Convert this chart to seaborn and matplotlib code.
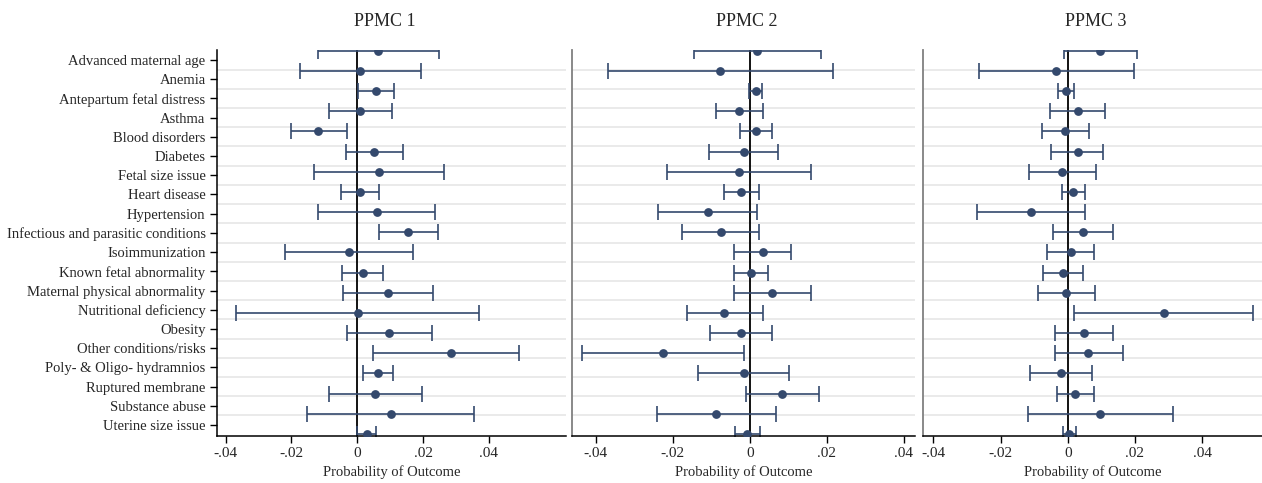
import numpy as np
import pandas as pd
import matplotlib
matplotlib.use("Agg")
import matplotlib.pyplot as plt
import seaborn as sns

conditions = [
    "Advanced maternal age", "Anemia", "Antepartum fetal distress", "Asthma",
    "Blood disorders", "Diabetes", "Fetal size issue", "Heart disease",
    "Hypertension", "Infectious and parasitic conditions", "Isoimmunization",
    "Known fetal abnormality", "Maternal physical abnormality",
    "Nutritional deficiency", "Obesity", "Other conditions/risks",
    "Poly- & Oligo- hydramnios", "Ruptured membrane", "Substance abuse",
    "Uterine size issue",
]
panels = ["PPMC 1", "PPMC 2", "PPMC 3"]

# point estimates and 95% CI bounds
est_1 = [0.0064, 0.0008, 0.0056, 0.0008, -0.0119, 0.0051, 0.0066, 0.0008, 0.0059, 0.0155,
         -0.0024, 0.0016, 0.0092, 0.0001, 0.0096, 0.0284, 0.0062, 0.0054, 0.0101, 0.0029]
lo_1 = [-0.0119, -0.0174, 0.0001, -0.0085, -0.0202, -0.0035, -0.0132, -0.0050, -0.0119, 0.0067,
        -0.0218, -0.0046, -0.0043, -0.0369, -0.0030, 0.0047, 0.0016, -0.0085, -0.0152, 0.0000]
hi_1 = [0.0249, 0.0194, 0.0112, 0.0105, -0.0030, 0.0138, 0.0264, 0.0067, 0.0236, 0.0244,
        0.0170, 0.0077, 0.0229, 0.0371, 0.0226, 0.0492, 0.0109, 0.0196, 0.0355, 0.0057]

est_2 = [0.0019, -0.0077, 0.0015, -0.0028, 0.0016, -0.0016, -0.0029, -0.0022, -0.0110, -0.0076,
         0.0034, 0.0003, 0.0058, -0.0066, -0.0023, -0.0227, -0.0016, 0.0083, -0.0087, -0.0007]
lo_2 = [-0.0146, -0.0368, -0.0003, -0.0089, -0.0025, -0.0105, -0.0216, -0.0067, -0.0239, -0.0176,
        -0.0040, -0.0041, -0.0042, -0.0164, -0.0104, -0.0437, -0.0134, -0.0011, -0.0241, -0.0039]
hi_2 = [0.0184, 0.0216, 0.0031, 0.0034, 0.0057, 0.0073, 0.0160, 0.0025, 0.0019, 0.0024,
        0.0108, 0.0048, 0.0160, 0.0034, 0.0057, -0.0016, 0.0102, 0.0179, 0.0068, 0.0026]

est_3 = [0.0097, -0.0034, -0.0005, 0.0029, -0.0007, 0.0029, -0.0016, 0.0017, -0.0108, 0.0046,
         0.0009, -0.0014, -0.0004, 0.0285, 0.0048, 0.0061, -0.0019, 0.0022, 0.0096, 0.0005]
lo_3 = [-0.0010, -0.0264, -0.0028, -0.0054, -0.0076, -0.0050, -0.0116, -0.0018, -0.0269, -0.0043,
        -0.0062, -0.0073, -0.0089, 0.0020, -0.0039, -0.0039, -0.0111, -0.0033, -0.0119, -0.0014]
hi_3 = [0.0206, 0.0197, 0.0018, 0.0111, 0.0064, 0.0106, 0.0084, 0.0052, 0.0051, 0.0135,
        0.0079, 0.0044, 0.0081, 0.0551, 0.0135, 0.0163, 0.0073, 0.0078, 0.0313, 0.0024]

xticks = [-0.04, -0.02, 0, 0.02, 0.04]
xticklabels = ["-.04", "-.02", "0", ".02", ".04"]

rows = []
for p, (e, l, h) in zip(panels, [(est_1, lo_1, hi_1), (est_2, lo_2, hi_2), (est_3, lo_3, hi_3)]):
    for i, c in enumerate(conditions):
        rows.append({"panel": p, "condition": c, "pos": i, "est": e[i], "lo": l[i], "hi": h[i]})
df = pd.DataFrame(rows)

sns.set_style("white")
plt.rcParams["font.family"] = ["Liberation Serif", "DejaVu Serif"]

navy = "#34496d"
fig = plt.figure(figsize=(12.62, 4.83), dpi=100)

# axes boxes in figure fractions (left, width) and x-limits per panel
boxes = [(0.1717, 0.2768), (0.4530, 0.2720), (0.7316, 0.2684)]
xlims = [(-0.0427, 0.0634), (-0.0463, 0.0429), (-0.0430, 0.0578)]
title_x = [0.48, 0.51, 0.51]

n = len(conditions)
label_pos = 0.461 + 0.9524 * np.arange(n)
grid_pos = label_pos[:-1] + 0.476

for k, p in enumerate(panels):
    ax = fig.add_axes([boxes[k][0], 0.0973, boxes[k][1], 0.7992])
    d = df[df["panel"] == p]
    for g in grid_pos:
        ax.axhline(g, color="#e6e6e6", lw=1.2, zorder=0)
    ax.axvline(0, color="black", lw=1.3, zorder=1)
    ax.errorbar(d["est"], d["pos"], xerr=[d["est"] - d["lo"], d["hi"] - d["est"]],
                fmt="none", ecolor=navy, elinewidth=1.2, capsize=5.5, capthick=1.2, zorder=2)
    sns.scatterplot(data=d, x="est", y="pos", ax=ax, color=navy, s=40,
                    edgecolor=navy, linewidth=0, zorder=3)
    ax.set_xlim(*xlims[k])
    ax.set_ylim(19.10, -0.035)
    ax.set_xticks(xticks)
    ax.set_xticklabels(xticklabels, fontsize=11)
    ax.set_xlabel("Probability of Outcome", fontsize=10.5, labelpad=4)
    ax.set_ylabel("")
    ax.set_title(p, fontsize=13, pad=17, x=title_x[k])
    ax.tick_params(axis="x", direction="out", length=5, width=1, color="black", pad=3, bottom=True)
    for s in ["top", "right"]:
        ax.spines[s].set_visible(False)
    ax.spines["bottom"].set_color("black")
    ax.spines["bottom"].set_linewidth(1.1)
    if k == 0:
        ax.set_yticks(label_pos)
        ax.set_yticklabels(conditions, fontsize=10.5)
        ax.tick_params(axis="y", direction="out", length=5, width=1, color="black", pad=3, left=True)
        ax.spines["left"].set_color("black")
        ax.spines["left"].set_linewidth(1.1)
    else:
        ax.set_yticks([])
        ax.spines["left"].set_color("#808080")
        ax.spines["left"].set_linewidth(1.3)

fig.savefig("out.png", dpi=100)
